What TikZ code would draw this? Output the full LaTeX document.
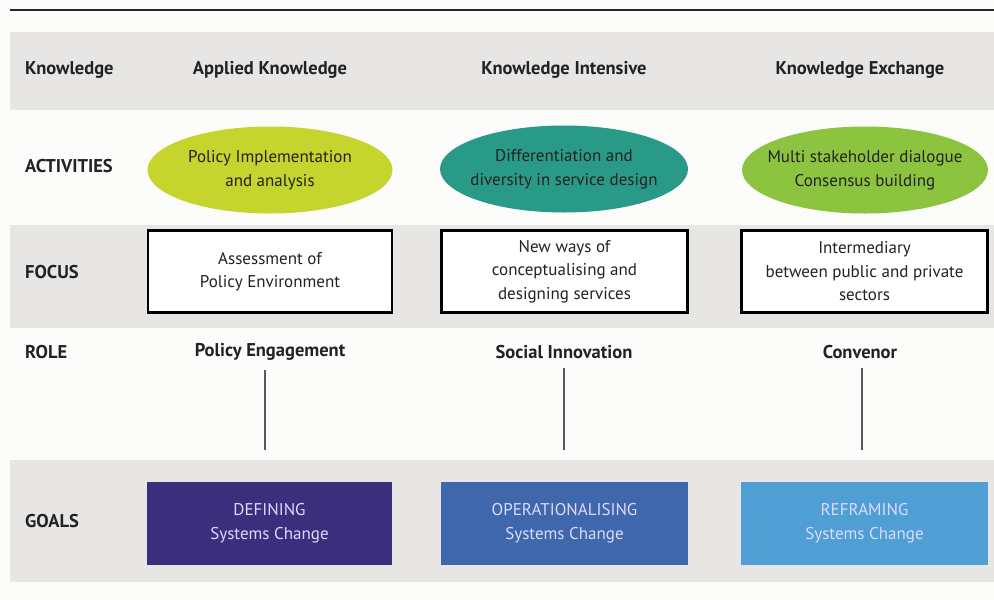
\documentclass[tikz,border=0pt]{standalone}
\usepackage{fontspec}
\setmainfont{PT Sans}
\usepackage{tikz}
\usetikzlibrary{shapes.geometric,positioning}
\definecolor{bandgray}{HTML}{E8E6E5}
\definecolor{paper}{HTML}{FCFCFA}
\definecolor{inkdark}{HTML}{222222}
\definecolor{actyellow}{HTML}{C6D42E}
\definecolor{actteal}{HTML}{2A9A88}
\definecolor{actgreen}{HTML}{8DC43F}
\definecolor{goalpurple}{HTML}{3B2E7C}
\definecolor{goalblue}{HTML}{3F67AC}
\definecolor{goalsky}{HTML}{4F9ED4}
\tikzset{
    grid band/.style={fill=bandgray, draw=none},
    row label/.style={
        anchor=west,
        inner xsep=0pt,
        font=\fontsize{18.5}{22}\selectfont\bfseries,
        text=inkdark
    },
    col head/.style={
        font=\fontsize{18.5}{22}\selectfont\bfseries,
        text=inkdark
    },
    activity/.style={
        ellipse,
        minimum width=245pt,
        minimum height=87pt,
        inner xsep=-30pt,
        inner ysep=-12pt,
        align=center,
        font=\fontsize{17}{24}\selectfont,
        text=inkdark
    },
    focus box/.style={
        draw=black,
        line width=2.4pt,
        fill=white,
        minimum width=244pt,
        minimum height=82pt,
        align=center,
        font=\fontsize{17}{23.5}\selectfont,
        text=inkdark
    },
    goal box/.style={
        minimum width=245pt,
        minimum height=83pt,
        align=center,
        font=\fontsize{17}{24}\selectfont,
        text=white!86!blue
    },
    role stem/.style={draw=black!65, line width=1.6pt}
}

\begin{document}
\begin{tikzpicture}[x=1pt,y=-1pt]
    \fill[paper] (0,0) rectangle (994,600);
    \useasboundingbox (0,0) rectangle (994,600);

    \draw[line width=2.8pt, black!85] (10,10) -- (994,10);

    \fill[grid band] (10,32) rectangle (994,110);
    \fill[grid band] (10,225) rectangle (994,328);
    \fill[grid band] (10,460) rectangle (994,582);

    \node[row label] (knowledge) at (25,70) {Knowledge};
    \node[row label] (activities) at (25,166) {ACTIVITIES};
    \node[row label] (focus) at (25,272) {FOCUS};
    \node[row label] (role) at (25,352) {ROLE};
    \node[row label] (goals) at (25,521) {GOALS};

    \node[col head] (applied) at (270,70) {Applied Knowledge};
    \node[col head] (intensive) at (564,70) {Knowledge Intensive};
    \node[col head] (exchange) at (860,70) {Knowledge Exchange};

    \node[activity, fill=actyellow] (act1) at (270,170) {Policy Implementation\\and analysis};
    \node[activity, fill=actteal, minimum width=248pt] (act2) at (564,169) {Differentiation and\\diversity in service design};
    \node[activity, fill=actgreen, minimum width=246pt] (act3) at (865,170) {Multi stakeholder dialogue\\Consensus building};

    \node[focus box] (focus1) at (270,271.5) {Assessment of\\Policy Environment};
    \node[focus box, minimum width=246pt] (focus2) at (564.5,271.5) {New ways of\\conceptualising and\\designing services};
    \node[focus box, minimum width=246pt] (focus3) at (864.5,271.5) {Intermediary\\between public and private\\sectors};

    \node[col head] (role1) at (270,352) {Policy Engagement};
    \node[col head] (role2) at (564,352) {Social Innovation};
    \node[col head] (role3) at (860,352) {Convenor};

    \node[goal box, fill=goalpurple] (goal1) at (269.5,523.5) {DEFINING\\Systems Change};
    \node[goal box, fill=goalblue, minimum width=247pt] (goal2) at (564.5,523.5) {OPERATIONALISING\\Systems Change};
    \node[goal box, fill=goalsky, minimum width=247pt] (goal3) at (864.5,523.5) {REFRAMING\\Systems Change};

    \foreach \r/\g/\dx in {role1/goal1/-5,role2/goal2/0,role3/goal3/2} {
        \draw[role stem, shorten <=6pt, shorten >=32pt]
            ([xshift=\dx pt]\r.south) -- ([xshift=\dx pt]\r.south |- \g.north);
    }
\end{tikzpicture}
\end{document}
